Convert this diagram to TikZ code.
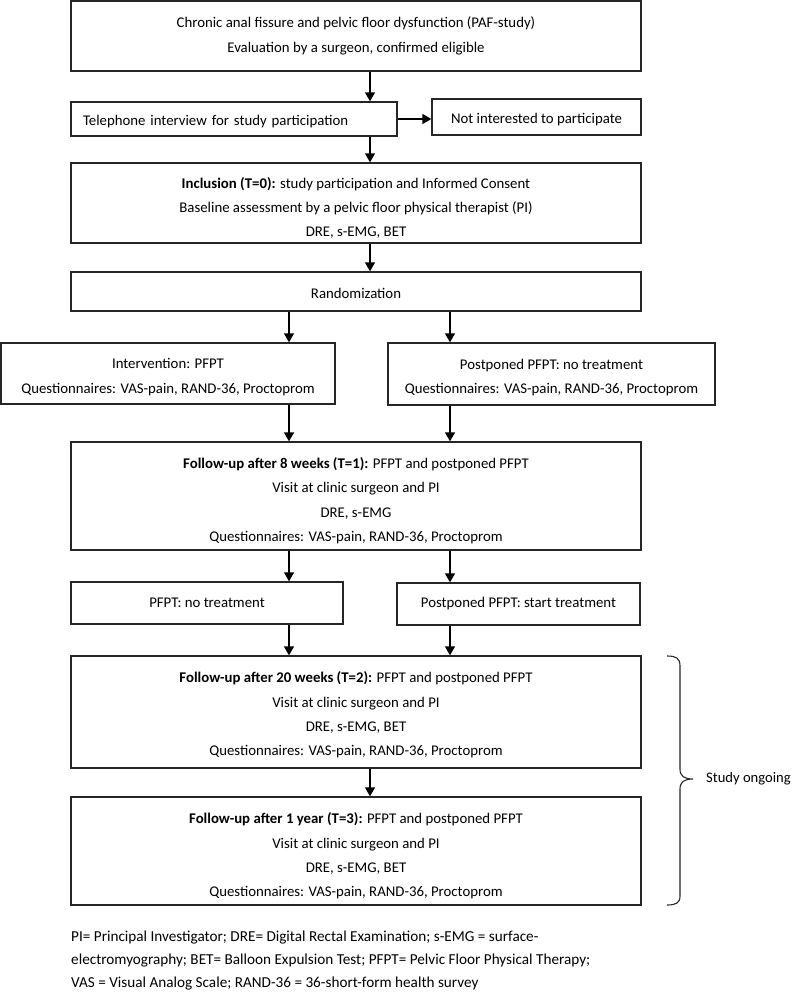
\documentclass[tikz,border=0pt]{standalone}
\usepackage{fontspec}
\setmainfont{Carlito}
\usetikzlibrary{arrows.meta}
\newcommand{\lowr}[1]{\rule{0pt}{#1pt}}
\begin{document}
\begin{tikzpicture}[x=1pt,y=-1pt,
  box/.style={draw=black!85, line width=1.1pt, inner sep=0pt, align=center,
    font=\fontsize{14.8}{24.4}\selectfont},
  arr/.style={line width=2.5pt, -{Triangle[width=9.5pt,length=9pt]}},
  note/.style={font=\fontsize{15.2}{23}\selectfont, align=left, inner sep=0pt}]
\useasboundingbox (0,0) rectangle (794,995);
\coordinate (colM) at (370,0);
\coordinate (colL) at (289,0);
\coordinate (colR) at (450,0);

\node[box, minimum width=570, minimum height=70] (b1) at (356,36)
  {Chronic anal fissure and pelvic floor dysfunction (PAF-study)\\Evaluation by a surgeon, confirmed eligible};
\node[box, minimum width=326, minimum height=34, text width=302, align=left] (b2) at (234,119)
  {\lowr{16}Telephone interview for study participation};
\node[box, minimum width=209, minimum height=36] (b3) at (536.5,117)
  {\lowr{15}Not interested to participate};
\node[box, minimum width=570, minimum height=80] (b4) at (356,203)
  {\lowr{21}\textbf{Inclusion (T=0):} study participation and Informed Consent\\Baseline assessment by a pelvic floor physical therapist (PI)\\DRE, s-EMG, BET};
\node[box, minimum width=570, minimum height=39] (b5) at (356,291.5)
  {\lowr{15}Randomization};
\node[box, minimum width=334, minimum height=61] (b6) at (168,373.5)
  {\lowr{17}Intervention: PFPT\\Questionnaires: VAS-pain, RAND-36, Proctoprom};
\node[box, minimum width=327, minimum height=62] (b7) at (551.5,374)
  {\lowr{17}Postponed PFPT: no treatment\\Questionnaires: VAS-pain, RAND-36, Proctoprom};
\node[box, minimum width=570, minimum height=108] (b8) at (356,496)
  {\lowr{20}\textbf{Follow-up after 8 weeks (T=1):} PFPT and postponed PFPT\\Visit at clinic surgeon and PI\\DRE, s-EMG\\Questionnaires: VAS-pain, RAND-36, Proctoprom};
\node[box, minimum width=272, minimum height=42] (b9) at (207,603)
  {PFPT: no treatment};
\node[box, minimum width=243, minimum height=42] (b10) at (518.5,604)
  {Postponed PFPT: start treatment};
\node[box, minimum width=570, minimum height=112] (b11) at (356,712)
  {\lowr{17}\textbf{Follow-up after 20 weeks (T=2):} PFPT and postponed PFPT\\Visit at clinic surgeon and PI\\DRE, s-EMG, BET\\Questionnaires: VAS-pain, RAND-36, Proctoprom};
\node[box, minimum width=570, minimum height=108] (b12) at (356,851)
  {\lowr{21}\textbf{Follow-up after 1 year (T=3):} PFPT and postponed PFPT\\Visit at clinic surgeon and PI\\DRE, s-EMG, BET\\Questionnaires: VAS-pain, RAND-36, Proctoprom};

\draw[arr] (b1.south -| colM) -- (b2.north -| colM);
\draw[arr] (b2.east) -- (b2.east -| b3.west);
\draw[arr] (b2.south -| colM) -- (b4.north -| colM);
\draw[arr] (b4.south -| colM) -- (b5.north -| colM);
\draw[arr] (b5.south -| colL) -- (b6.north -| colL);
\draw[arr] (b5.south -| colR) -- (b7.north -| colR);
\draw[arr] (b6.south -| colL) -- (b8.north -| colL);
\draw[arr] (b7.south -| colR) -- (b8.north -| colR);
\draw[arr] (b8.south -| colL) -- (b9.north -| colL);
\draw[arr] (b8.south -| colR) -- (b10.north -| colR);
\draw[arr] (b9.south -| colL) -- (b11.north -| colL);
\draw[arr] (b10.south -| colR) -- (b11.north -| colR);
\draw[arr] (b11.south -| colM) -- (b12.north -| colM);

% brace
\draw[line width=1.1pt, black!85] (667,656) .. controls (676,656) and (680,658) .. (680,666)
  -- (680,769) .. controls (680,776) and (684,779) .. (693,779)
  .. controls (684,779) and (680,782) .. (680,789)
  -- (680,896) .. controls (680,903) and (676,905) .. (667,905);
\node[note, font=\fontsize{14.6}{20}\selectfont, anchor=west] (ongoing) at (706,779) {Study ongoing};

\node[note, anchor=north west] (foot) at (71,931)
  {PI= Principal Investigator; DRE= Digital Rectal Examination; s-EMG = surface-\\electromyography; BET= Balloon Expulsion Test; PFPT= Pelvic Floor Physical Therapy;\\VAS = Visual Analog Scale; RAND-36 = 36-short-form health survey};
\end{tikzpicture}
\end{document}
